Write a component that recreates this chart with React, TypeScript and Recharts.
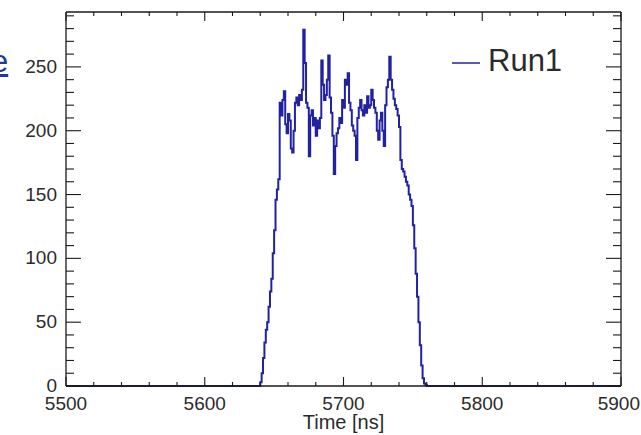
import { LineChart, Line, XAxis, YAxis, Legend } from 'recharts';

// histogram: 1 ns bins, range 5500-5900 ns, everything outside the listed bins is 0
const HIST_RANGE = [5500, 5900];
const BIN_LOW = 5638;
const COUNTS = [
  0, 0, 3, 10, 22, 34, 44, 50, 62, 74, 84, 104, 122, 146, 154, 162,
  222, 212, 224, 231, 205, 198, 213, 208, 186, 183, 200, 222, 226, 220, 228, 224,
  232, 279, 253, 222, 218, 180, 212, 216, 204, 210, 196, 208, 202, 210, 255, 236,
  224, 228, 240, 259, 226, 214, 196, 166, 188, 198, 202, 210, 206, 224, 218, 240,
  236, 245, 222, 216, 204, 200, 196, 177, 210, 218, 224, 216, 212, 220, 214, 227,
  218, 220, 232, 224, 218, 214, 200, 193, 208, 214, 200, 188, 220, 234, 240, 258,
  240, 232, 225, 220, 217, 212, 203, 177, 170, 168, 164, 160, 157, 150, 146, 141,
  126, 108, 88, 70, 50, 32, 16, 6, 2, 1, 0,
];

const X_TICKS = [
  5500, 5520, 5540, 5560, 5580, 5600, 5620, 5640, 5660, 5680, 5700,
  5720, 5740, 5760, 5780, 5800, 5820, 5840, 5860, 5880, 5900,
];
const X_LABELS = [5500, 5600, 5700, 5800, 5900];
const Y_TICKS = [
  0, 10, 20, 30, 40, 50, 60, 70, 80, 90, 100, 110, 120, 130, 140,
  150, 160, 170, 180, 190, 200, 210, 220, 230, 240, 250, 260, 270, 280, 290,
];
const Y_LABELS = [0, 50, 100, 150, 200, 250];
const Y_MAX = 293;

const SERIES_NAME = 'Run1';
const X_TITLE = 'Time [ns]';

const data = [
  { t: HIST_RANGE[0], n: 0 },
  ...COUNTS.map((n, i) => ({ t: BIN_LOW + i, n })),
  { t: HIST_RANGE[1], n: 0 },
];

const FONT = '"Liberation Sans", Arial, Helvetica, sans-serif';
const FRAME = '#1a1a1a';
const TEXT = '#2b2b2b';
const BLUE = '#2222a0';
const AXIS_LINE = { stroke: FRAME, strokeWidth: 1.3 };

// ROOT style: ticks point into the frame, labels only on the majors
const BottomTick = (p: any) => {
  const v = p.payload.value;
  const major = X_LABELS.includes(v);
  const last = v === HIST_RANGE[1];
  return (
    <g>
      <line x1={p.x} x2={p.x} y1={p.y} y2={p.y - (major ? 9 : 4)} stroke={FRAME} strokeWidth={1.1} />
      {major && (
        <text
          x={last ? p.x + 19 : p.x} y={p.y + 24} textAnchor={last ? 'end' : 'middle'}
          fontSize={19} fontFamily={FONT} fill={TEXT}
        >
          {v}
        </text>
      )}
    </g>
  );
};

const TopTick = (p: any) => {
  const major = X_LABELS.includes(p.payload.value);
  return <line x1={p.x} x2={p.x} y1={p.y} y2={p.y + (major ? 9 : 4)} stroke={FRAME} strokeWidth={1.1} />;
};

const LeftTick = (p: any) => {
  const v = p.payload.value;
  const major = Y_LABELS.includes(v);
  return (
    <g>
      <line x1={p.x} x2={p.x + (major ? 15 : 8)} y1={p.y} y2={p.y} stroke={FRAME} strokeWidth={1.1} />
      {major && (
        <text x={p.x - 9} y={p.y + 6} textAnchor="end" fontSize={19} fontFamily={FONT} fill={TEXT}>
          {v}
        </text>
      )}
    </g>
  );
};

const RightTick = (p: any) => {
  const major = Y_LABELS.includes(p.payload.value);
  return <line x1={p.x} x2={p.x - (major ? 15 : 8)} y1={p.y} y2={p.y} stroke={FRAME} strokeWidth={1.1} />;
};

const LegendBox = () => (
  <div style={{ display: 'flex', alignItems: 'center', fontFamily: FONT }}>
    <span style={{ display: 'inline-block', width: 28, height: 2, background: '#5a5ab8', marginTop: 3 }} />
    <span style={{ marginLeft: 8, fontSize: 31, lineHeight: '30px', color: TEXT }}>{SERIES_NAME}</span>
  </div>
);

export default function App() {
  return (
    <div style={{ position: 'absolute', left: 0, top: 0, width: 641, height: 435, overflow: 'hidden', background: '#fff' }}>
      <div
        style={{
          position: 'absolute', left: -9, top: 44, fontFamily: FONT, fontSize: 31,
          color: '#1c3c96', textDecoration: 'underline',
        }}
      >
        e
      </div>
      <LineChart width={641} height={435} data={data} margin={{ top: 11, right: 19, bottom: 48, left: 65 }}>
        <XAxis
          dataKey="t" type="number" domain={HIST_RANGE} ticks={X_TICKS} interval={0}
          height={1} tickSize={0} tickMargin={0} tickLine={false} axisLine={AXIS_LINE}
          tick={<BottomTick />}
          label={{ value: X_TITLE, position: 'bottom', offset: 28, fontSize: 20, fontFamily: FONT, fill: TEXT }}
        />
        <XAxis
          xAxisId="top" orientation="top" dataKey="t" type="number" domain={HIST_RANGE} ticks={X_TICKS}
          interval={0} height={1} tickSize={0} tickMargin={0} tickLine={false} axisLine={AXIS_LINE}
          tick={<TopTick />}
        />
        <YAxis
          type="number" domain={[0, Y_MAX]} ticks={Y_TICKS} interval={0}
          width={1} tickSize={0} tickMargin={0} tickLine={false} axisLine={AXIS_LINE}
          tick={<LeftTick />}
        />
        <YAxis
          yAxisId="right" orientation="right" dataKey="n" type="number" domain={[0, Y_MAX]} ticks={Y_TICKS}
          interval={0} width={1} tickSize={0} tickMargin={0} tickLine={false} axisLine={AXIS_LINE}
          tick={<RightTick />}
        />
        <Legend
          layout="horizontal" verticalAlign="middle" align="center"
          content={<LegendBox />}
          wrapperStyle={{ position: 'absolute', left: 452, top: 46, width: 'auto' }}
        />
        <Line
          dataKey="n" name={SERIES_NAME} type="stepAfter" stroke={BLUE} strokeWidth={2}
          dot={false} activeDot={false} isAnimationActive={false}
        />
      </LineChart>
    </div>
  );
}
